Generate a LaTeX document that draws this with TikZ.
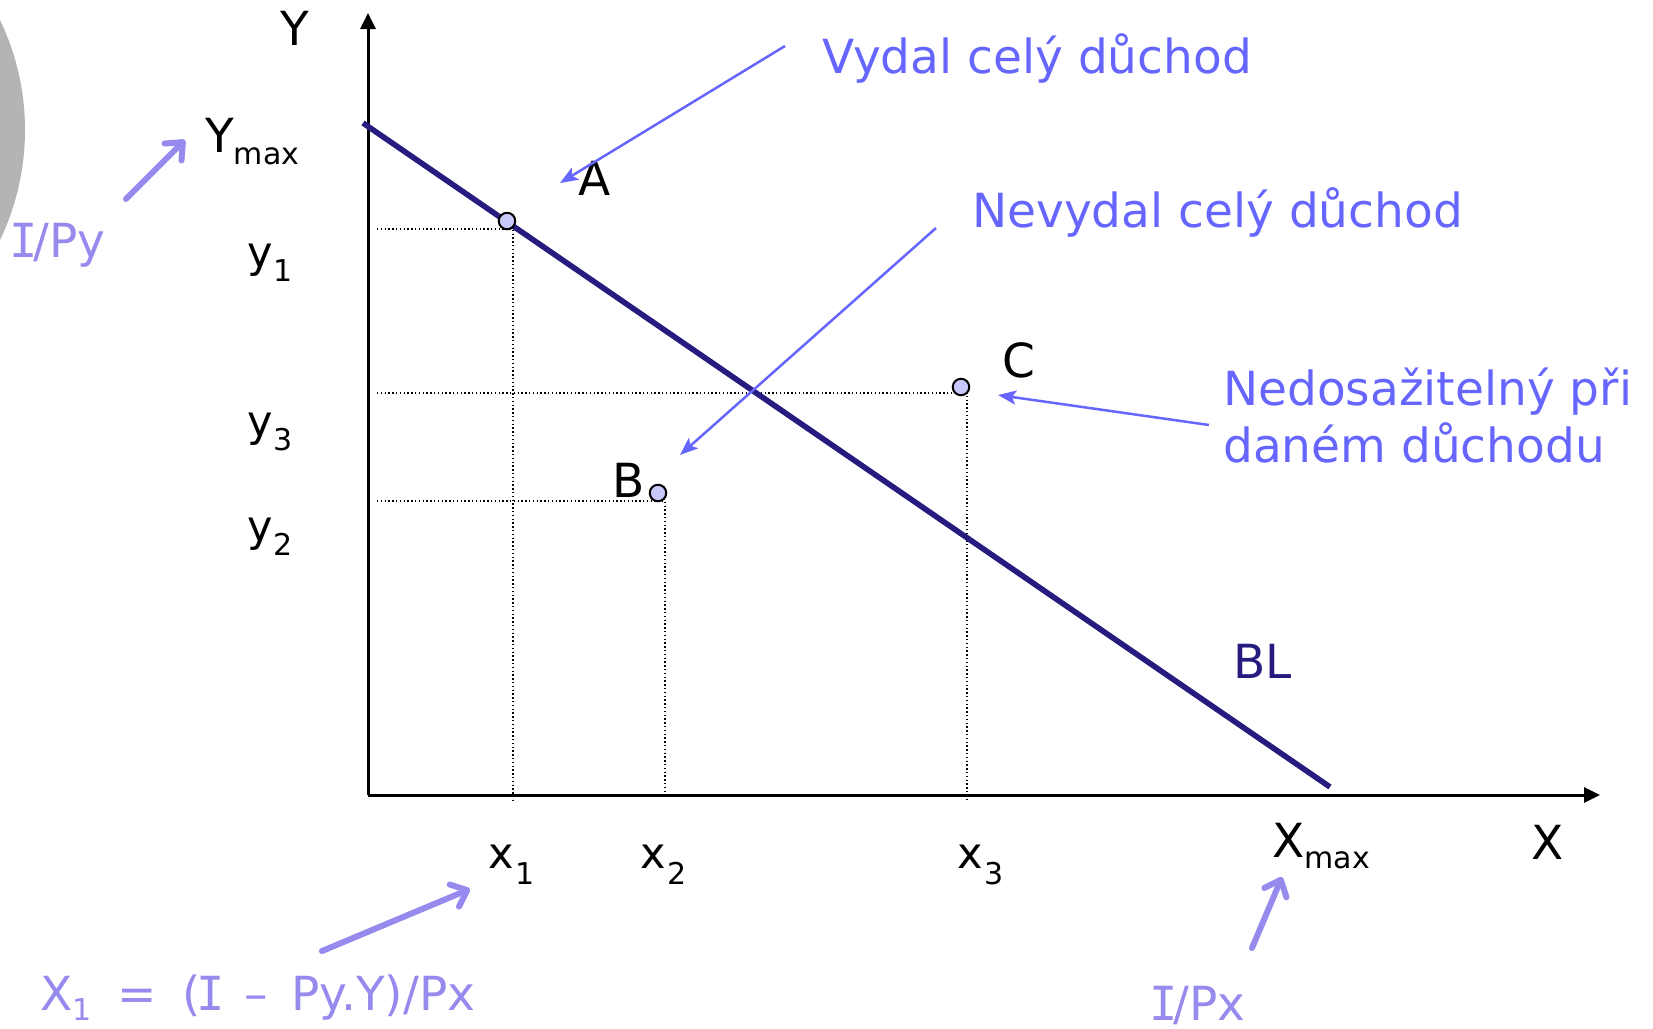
\documentclass[tikz,border=0pt]{standalone}
\usepackage{fontspec}
\setmainfont{DejaVu Sans}
\newfontfamily\serifI{DejaVu Sans Mono}
\usetikzlibrary{arrows.meta}
\definecolor{navy}{RGB}{38,28,128}
\definecolor{hintblue}{RGB}{102,102,255}
\definecolor{lav}{RGB}{150,138,238}
\definecolor{ptfill}{RGB}{200,200,250}
\definecolor{greyball}{RGB}{178,180,182}
\newcommand\subf{\fontsize{30}{30}\selectfont}
\newcommand\bigI{{\serifI\kern-4pt I\kern-4pt}}
\begin{document}
\begin{tikzpicture}[x=1pt,y=-1pt,
 lbl/.style={anchor=base west,inner sep=0pt,font=\fontsize{47}{56}\selectfont},
 sm/.style={lbl,font=\fontsize{43}{50}\selectfont},
 bluetxt/.style={lbl,text=hintblue},
 lavtxt/.style={lbl,text=lav},
 axis/.style={line width=3pt,-{Triangle[length=16pt,width=15pt]}},
 guide/.style={line width=1.3pt,dash pattern=on 1.4pt off 2.4pt},
 pt/.style={circle,draw=black,fill=ptfill,line width=2pt,minimum size=16.5pt,inner sep=0pt},
 bluearr/.style={hintblue,line width=2.5pt,-{Stealth[length=18pt,width=14pt,inset=4pt]}},
 lavarr/.style={lav,line width=6pt,line cap=round,-{Straight Barb[round,length=14pt,width=24pt]}},
]
\useasboundingbox (0,0) rectangle (1653,1028);
\begin{scope}
\clip (0,0) rectangle (1653,1028);
\fill[greyball] (-229,130) circle[radius=254pt];
\end{scope}

% guide lines
\coordinate (ah) at (377,229); \coordinate (ac) at (513,229); \coordinate (ab) at (513,801);
\coordinate (bh) at (377,501); \coordinate (bc) at (665,501); \coordinate (bb) at (665,795);
\coordinate (ch) at (377,393); \coordinate (cc) at (967,393); \coordinate (cb) at (967,801);
\draw[guide] (ah) -- (ac) -- (ab);
\draw[guide] (bh) -- (bc) -- (bb);
\draw[guide] (ch) -- (cc) -- (cb);

% axes
\coordinate (O) at (368,795);
\coordinate (ytip) at (368,13);
\coordinate (xtip) at (1600,795);
\draw[axis] (O) -- (ytip);
\draw[axis] (O) -- (xtip);

% budget line
\coordinate (bl1) at (363,123);
\coordinate (bl2) at (1330,787);
\draw[navy,line width=5.6pt] (bl1) -- (bl2);

% points
\node[pt] (A) at (507,221) {};
\node[pt] (B) at (658,493) {};
\node[pt] (C) at (961,387) {};

% labels
\node[lbl] (Ylab) at (280,45) {Y};
\node[lbl] (Ymax) at (205,152) {Y\raisebox{-12pt}{\subf max}};
\node[sm] (y1) at (247,267) {y\kern1pt\raisebox{-14pt}{\subf 1}};
\node[sm] (y3) at (247,436) {y\kern1pt\raisebox{-14pt}{\subf 3}};
\node[sm] (y2) at (247,541) {y\kern1pt\raisebox{-14pt}{\subf 2}};
\node[sm] (x1) at (488,868) {x\kern2pt\raisebox{-16pt}{\subf 1}};
\node[sm] (x2) at (640,868) {x\kern2pt\raisebox{-16pt}{\subf 2}};
\node[sm] (x3) at (957,868) {x\kern2pt\raisebox{-16pt}{\subf 3}};
\node[lbl] (Xmax) at (1272,857) {X\raisebox{-11pt}{\subf max}};
\node[lbl] (Xlab) at (1531,859) {X};
\node[lbl] (Alab) at (578,195) {A};
\node[lbl] (Blab) at (612,497) {B};
\node[lbl] (Clab) at (1002,377) {C};
\node[lbl,text=navy] (BL) at (1233,678) {BL};

\node[bluetxt] (vyd) at (822,73) {Vydal celý důchod};
\node[bluetxt] (nevyd) at (972,227) {Nevydal celý důchod};
\node[bluetxt] (nedos1) at (1223,405) {Nedosažitelný při};
\node[bluetxt] (nedos2) at (1223,462) {daném důchodu};

\node[lavtxt] (ipy) at (13,257) {\bigI/Py};
\node[lavtxt] (ipx) at (1153,1020) {\bigI/Px};
\node[lavtxt] (form) at (40,1010) {X\raisebox{-10pt}{\subf 1}\hspace{0.55em}=\hspace{0.55em}(\bigI\hspace{0.5em}–\hspace{0.5em}Py.Y)/Px};

% blue arrows
\coordinate (v0) at (785,46); \coordinate (v1) at (560,183);
\coordinate (n0) at (936,228); \coordinate (n1) at (680,455);
\coordinate (d0) at (1209,425); \coordinate (d1) at (998,395);
\draw[bluearr] (v0) -- (v1);
\draw[bluearr] (n0) -- (n1);
\draw[bluearr] (d0) -- (d1);

% lavender arrows
\coordinate (p0) at (126,199); \coordinate (p1) at (185,140);
\coordinate (q0) at (322,951); \coordinate (q1) at (470,889);
\coordinate (r0) at (1252,948); \coordinate (r1) at (1282,877);
\draw[lavarr] (p0) -- (p1);
\draw[lavarr] (q0) -- (q1);
\draw[lavarr] (r0) -- (r1);
\end{tikzpicture}
\end{document}
